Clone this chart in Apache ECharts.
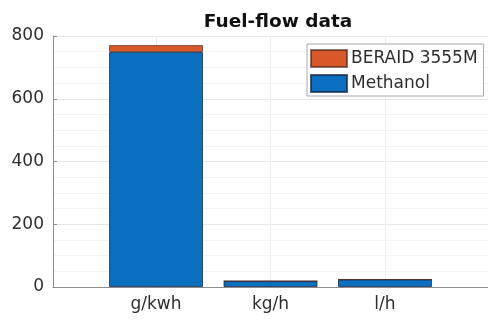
<!DOCTYPE html>
<html>
<head>
<meta charset="utf-8">
<title>Fuel-flow data</title>
<script src="https://cdn.jsdelivr.net/npm/echarts@6/dist/echarts.min.js"></script>
<style>
  html, body { margin: 0; padding: 0; background: #fff; }
  #chart { width: 488px; height: 320px; }
</style>
</head>
<body>
<div id="chart"></div>
<script>
// Fuel-flow measurements per unit, stacked by component
const categories = ['g/kwh', 'kg/h', 'l/h'];
const methanol = [749, 19, 24];
const beraid = [22, 0, 0];
const yTicks = [0, 200, 400, 600, 800];

const positions = categories.map((_, i) => i + 1);
// value first so the stack accumulates on the value dimension
const toPoints = vals => vals.map((v, i) => [v, positions[i]]);

const FONT = 'DejaVu Sans';
const TEXT = '#2e2e2e';
const AXIS = '#8c8c8c';

const chart = echarts.init(document.getElementById('chart'), null, { renderer: 'canvas' });

chart.setOption({
  animation: false,
  backgroundColor: '#ffffff',
  title: {
    text: 'Fuel-flow data',
    left: 273,
    top: 8,
    textAlign: 'center',
    textStyle: { fontFamily: FONT, fontSize: 18.5, fontWeight: 'bold', color: '#111' }
  },
  legend: {
    orient: 'vertical',
    left: 307,
    top: 44,
    data: ['BERAID 3555M', 'Methanol'],
    icon: 'rect',
    itemWidth: 36,
    itemHeight: 17,
    itemGap: 6,
    padding: [5, 6, 3, 3],
    backgroundColor: '#ffffff',
    borderColor: '#a8a8a8',
    borderWidth: 1,
    textStyle: { fontFamily: FONT, fontSize: 17, color: TEXT, padding: [0, 0, 0, -1] }
  },
  grid: { left: 53, right: -6, top: 36, bottom: 33, containLabel: false },
  xAxis: {
    type: 'value',
    min: 0.1,
    max: 3.9,
    axisLine: { show: true, lineStyle: { color: AXIS, width: 1 } },
    axisTick: { show: true, inside: true, length: 4, customValues: positions, lineStyle: { color: AXIS } },
    axisLabel: {
      customValues: positions,
      formatter: v => categories[Math.round(v) - 1] || '',
      fontFamily: FONT, fontSize: 17, color: TEXT, margin: 9
    },
    splitLine: { show: true, customValues: positions, lineStyle: { color: '#ececec', width: 1 } }
  },
  yAxis: {
    type: 'value',
    min: yTicks[0],
    max: yTicks[yTicks.length - 1],
    interval: 200,
    axisLine: { show: true, lineStyle: { color: AXIS, width: 1 } },
    axisTick: { show: true, inside: true, length: 4, lineStyle: { color: AXIS } },
    axisLabel: { fontFamily: FONT, fontSize: 17, color: TEXT, margin: 9 },
    splitLine: { show: true, lineStyle: { color: '#e6e6e6', width: 1 } },
    minorTick: { show: false, splitNumber: 4 },
    minorSplitLine: { show: true, lineStyle: { color: '#f4f4f4', width: 1 } }
  },
  series: [
    {
      name: 'Methanol',
      type: 'bar',
      stack: 'fuel',
      barWidth: 94,
      encode: { x: 1, y: 0 },
      data: toPoints(methanol),
      itemStyle: { color: '#0a6fbf', borderColor: 'rgba(20,40,70,0.75)', borderWidth: 1 }
    },
    {
      name: 'BERAID 3555M',
      type: 'bar',
      stack: 'fuel',
      barWidth: 94,
      encode: { x: 1, y: 0 },
      data: toPoints(beraid),
      itemStyle: { color: '#d9582a', borderColor: 'rgba(60,30,20,0.6)', borderWidth: 1 }
    }
  ]
});
</script>
</body>
</html>
